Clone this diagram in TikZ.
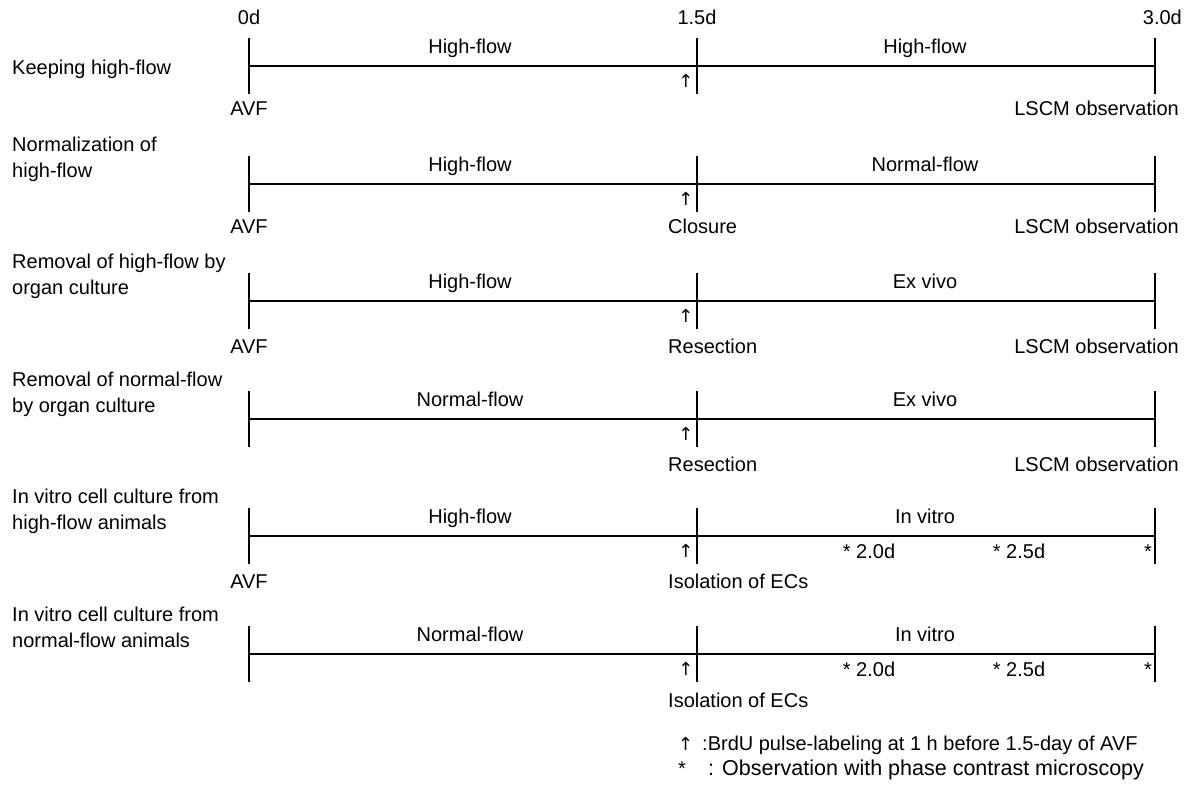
\documentclass[tikz,border=0pt]{standalone}
\usepackage{fontspec}
\setmainfont{Liberation Sans}
\newfontfamily\symf{DejaVu Sans}
\begin{document}
\begin{tikzpicture}[x=1pt,y=-1pt,
  txt/.style={inner sep=0pt,font=\fontsize{20}{26}\selectfont,anchor=base},
  lbl/.style={txt,anchor=base west,align=left},
  line/.style={line width=1.1pt,black},
  arr/.style={txt,font=\fontsize{18}{20}\symf}]
\useasboundingbox (0,0) rectangle (1185,790);
% time labels
\node[txt] (t0) at (249,24) {0d};
\node[txt] (t1) at (697,24) {1.5d};
\node[txt,anchor=base east] (t2) at (1182,24) {3.0d};
% rows
\foreach \i/\y in {1/66,2/184,3/301,4/419,5/536,6/654}{
  \coordinate (a\i) at (249,\y);
  \coordinate (b\i) at (697,\y);
  \coordinate (c\i) at (1155,\y);
  \coordinate (a\i t) at (249,\y-28);
  \coordinate (a\i b) at (249,\y+28);
  \coordinate (b\i t) at (697,\y-28);
  \coordinate (b\i b) at (697,\y+28);
  \coordinate (c\i t) at (1155,\y-28);
  \coordinate (c\i b) at (1155,\y+28);
  \draw[line] (a\i) -- (b\i) -- (c\i);
  \draw[line] (a\i t) -- (a\i b);
  \draw[line] (b\i t) -- (b\i b);
  \draw[line] (c\i t) -- (c\i b);
  \node[arr] (up\i) at (686,\y+21) {↑};
}
% left labels
\node[lbl] (L1) at (12,74) {Keeping high-flow};
\node[lbl] (L2) at (12,177) {Normalization of\\high-flow};
\node[lbl] (L3) at (12,294) {Removal of high-flow by\\organ culture};
\node[lbl] (L4) at (12,412) {Removal of normal-flow\\by organ culture};
\node[lbl] (L5) at (12,529) {In vitro cell culture from\\high-flow animals};
\node[lbl] (L6) at (12,647) {In vitro cell culture from\\normal-flow animals};
% segment labels
\node[txt] (s1a) at (470,53) {High-flow};
\node[txt] (s1b) at (925,53) {High-flow};
\node[txt] (s2a) at (470,171) {High-flow};
\node[txt] (s2b) at (925,171) {Normal-flow};
\node[txt] (s3a) at (470,288) {High-flow};
\node[txt] (s3b) at (925,288) {Ex vivo};
\node[txt] (s4a) at (470,406) {Normal-flow};
\node[txt] (s4b) at (925,406) {Ex vivo};
\node[txt] (s5a) at (470,523) {High-flow};
\node[txt] (s5b) at (925,523) {In vitro};
\node[txt] (s6a) at (470,641) {Normal-flow};
\node[txt] (s6b) at (925,641) {In vitro};
% observation stars
\node[txt] (o52) at (869,558) {* 2.0d};
\node[txt] (o53) at (1019,558) {* 2.5d};
\node[txt] (o54) at (1148,558) {*};
\node[txt] (o62) at (869,676) {* 2.0d};
\node[txt] (o63) at (1019,676) {* 2.5d};
\node[txt] (o64) at (1148,676) {*};
% bottom labels
\node[txt] (avf1) at (249,115) {AVF};
\node[txt,anchor=base east] (ls1) at (1179,115) {LSCM observation};
\node[txt] (avf2) at (249,233) {AVF};
\node[txt,anchor=base west] (cl2) at (668,233) {Closure};
\node[txt,anchor=base east] (ls2) at (1179,233) {LSCM observation};
\node[txt] (avf3) at (249,353) {AVF};
\node[txt,anchor=base west] (rs3) at (668,353) {Resection};
\node[txt,anchor=base east] (ls3) at (1179,353) {LSCM observation};
\node[txt,anchor=base west] (rs4) at (668,471) {Resection};
\node[txt,anchor=base east] (ls4) at (1179,471) {LSCM observation};
\node[txt] (avf5) at (249,588) {AVF};
\node[txt,anchor=base west] (is5) at (668,588) {Isolation of ECs};
\node[txt,anchor=base west] (is6) at (668,707) {Isolation of ECs};
% legend
\node[arr,anchor=base west] (lgA) at (678,750) {↑};
\node[txt,anchor=base west] (lgAt) at (702,750) {:BrdU pulse-labeling at 1 h before 1.5-day of AVF};
\node[txt,anchor=base west] (lgB) at (678,775) {*};
\node[txt,anchor=base west,font=\fontsize{21.5}{26}\selectfont] (lgBt) at (708,775) {: Observation with phase contrast microscopy};
\end{tikzpicture}
\end{document}
